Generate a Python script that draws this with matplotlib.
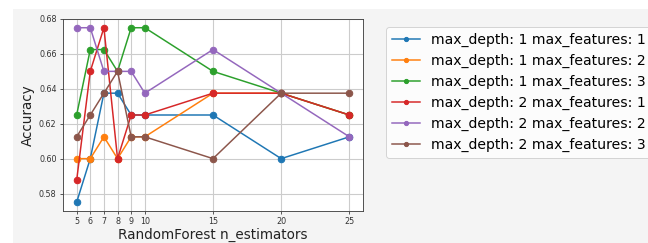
import matplotlib
matplotlib.use("Agg")
import matplotlib.pyplot as plt
from matplotlib.patches import Rectangle

n_estimators = [5, 6, 7, 8, 9, 10, 15, 20, 25]

labels = [
    "max_depth: 1 max_features: 1",
    "max_depth: 1 max_features: 2",
    "max_depth: 1 max_features: 3",
    "max_depth: 2 max_features: 1",
    "max_depth: 2 max_features: 2",
    "max_depth: 2 max_features: 3",
]

acc_d1_f1 = [0.575, 0.600, 0.6375, 0.6375, 0.625, 0.625, 0.625, 0.600, 0.6125]
acc_d1_f2 = [0.600, 0.600, 0.6125, 0.600, 0.6125, 0.6125, 0.6375, 0.6375, 0.625]
acc_d1_f3 = [0.625, 0.6625, 0.6625, 0.650, 0.675, 0.675, 0.650, 0.6375, 0.625]
acc_d2_f1 = [0.5875, 0.650, 0.675, 0.600, 0.625, 0.625, 0.6375, 0.6375, 0.625]
acc_d2_f2 = [0.675, 0.675, 0.650, 0.650, 0.650, 0.6375, 0.6625, 0.6375, 0.6125]
acc_d2_f3 = [0.6125, 0.625, 0.6375, 0.650, 0.6125, 0.6125, 0.600, 0.6375, 0.6375]

series = [acc_d1_f1, acc_d1_f2, acc_d1_f3, acc_d2_f1, acc_d2_f2, acc_d2_f3]

fig = plt.figure(figsize=(9, 3.375), dpi=72)
fig.patch.set_facecolor("white")
# fond gris type sortie notebook
fig.patches.append(Rectangle((13 / 648, 0), 1, 1 - 9 / 243, transform=fig.transFigure,
                             facecolor="#f4f4f4", edgecolor="none", zorder=-10))

ax = fig.add_axes([63 / 648, 1 - 211 / 243, 300 / 648, 192 / 243])
ax.set_facecolor("white")

for vals, lab in zip(series, labels):
    ax.plot(n_estimators, vals, marker="o", markersize=6.5, linewidth=1.5, label=lab)

ax.set_xticks(n_estimators)
ax.grid(True, color="#cccccc", linewidth=1.1)
ax.set_axisbelow(True)
ax.tick_params(labelsize=8, colors="#333333", length=3)
for s in ax.spines.values():
    s.set_color("#444444")
    s.set_linewidth(0.9)

ax.set_xlabel("RandomForest n_estimators", fontsize=13.5, color="#222222", labelpad=1)
ax.set_ylabel("Accuracy", fontsize=13.5, color="#222222")

leg = ax.legend(loc="upper left", bbox_to_anchor=(386 / 648, 1 - 27 / 243),
                bbox_transform=fig.transFigure, borderaxespad=0, fontsize=14,
                markerscale=0.65, handlelength=2.0)
leg.get_frame().set_edgecolor("#cccccc")

fig.savefig("out.png", dpi=72, facecolor=fig.get_facecolor())
